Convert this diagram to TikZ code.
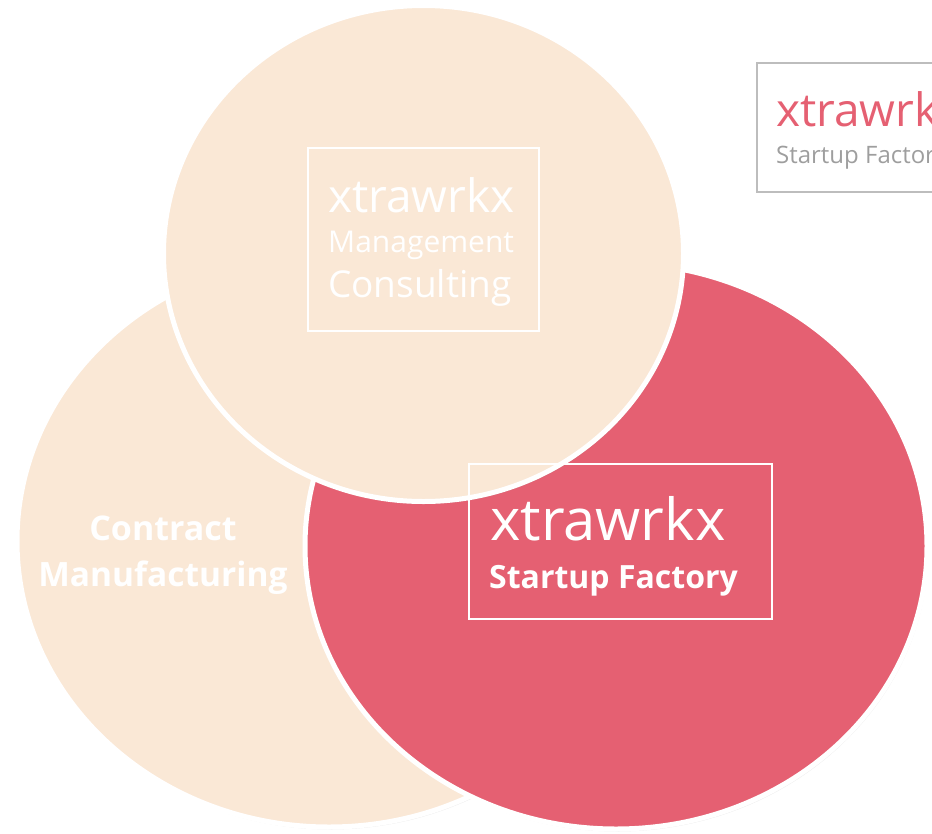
\documentclass[tikz,border=0pt]{standalone}
\usepackage{fontspec}
\setmainfont{Open Sans}
\usetikzlibrary{shapes.geometric,shadows}
\definecolor{peach}{HTML}{FAE8D6}
\definecolor{rose}{HTML}{E56072}
\definecolor{boxgray}{HTML}{BDBDBD}
\definecolor{textgray}{HTML}{9E9E9E}
\newcommand{\fsz}[1]{\fontsize{#1}{#1}\selectfont}
\tikzset{
  blob/.style={ellipse, draw=white, line width=5pt, inner sep=0pt,
    drop shadow={opacity=0.15, shadow xshift=1.5pt, shadow yshift=-2.5pt}},
  frame/.style={draw=white, line width=1.2pt, inner sep=0pt},
  txt/.style={text=white, inner sep=0pt, anchor=base west},
  ctxt/.style={text=white, inner sep=0pt, anchor=base}
}
\begin{document}
\begin{tikzpicture}[x=1pt,y=-1pt]
            \useasboundingbox (0,0) rectangle (932,833);
            \clip (0,0) rectangle (932,833);

            \node[blob, fill=peach, minimum width=624pt, minimum height=572pt] (cm) at (329,541) {};
            \node[blob, fill=rose, minimum width=622pt, minimum height=566pt] (sf) at (616,546) {};
            \node[blob, fill=peach, minimum width=520pt, minimum height=496pt] (mc) at (423.5,253.5) {};

            \node[frame, minimum width=231pt, minimum height=183pt] (mcbox) at (423.5,239.5) {};
            \node[frame, minimum width=303pt, minimum height=155pt] (sfbox) at (620.5,541.5) {};
            \node[draw=boxgray, line width=1.5pt, inner sep=0pt, minimum width=260pt,
                  minimum height=129pt, anchor=west] (logo) at (756,127.5) {};

            \node[txt, font=\fsz{46}] (mcname) at (328,212) {xtrawrkx};
            \node[txt, font=\fsz{30}] (mcline1) at (328,252) {Management};
            \node[txt, font=\fsz{37}] (mcline2) at (328,297) {Consulting};

            \node[txt, font=\fsz{58}] (sfname) at (490,540) {xtrawrkx};
            \node[txt, font=\fsz{32}\bfseries] (sfline) at (489,588) {Startup Factory};

            \node[ctxt, font=\fsz{34}\bfseries] (cmline1) at (163,540) {Contract};
            \node[ctxt, font=\fsz{33.5}\bfseries] (cmline2) at (163,586) {Manufacturing};

            \node[txt, text=rose, font=\fsz{46}] (logoname) at (776,126) {xtrawrkx};
            \node[txt, text=textgray, font=\fsz{24}] (logoline) at (776,163) {Startup Factory};

        \end{tikzpicture}
\end{document}
